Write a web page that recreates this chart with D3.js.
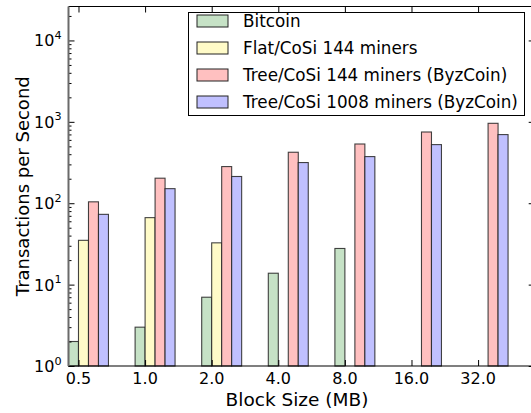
<!DOCTYPE html>
<html><head><meta charset="utf-8">
<script src="https://cdn.jsdelivr.net/npm/d3@7"></script>
<style>body{margin:0;background:#fff}svg{display:block;font-family:"DejaVu Sans",sans-serif}</style>
</head><body><svg id="c" width="531" height="413"></svg>
<script>
const categories = ["0.5","1.0","2.0","4.0","8.0","16.0","32.0"];
const bitcoin   = [2, 3, 7, 13.8, 27.8, null, null];
const flatCosi  = [35, 66.5, 32.6, null, null, null, null];
const tree144   = [104, 203, 282, 423, 534, 750, 959];
const tree1008  = [73, 151, 213, 316, 374, 525, 697];
const seriesNames = ["Bitcoin","Flat/CoSi 144 miners","Tree/CoSi 144 miners (ByzCoin)","Tree/CoSi 1008 miners (ByzCoin)"];
const seriesColors = ["#c6e2c6","#fffbc8","#ffc0c0","#c0c0ff"];
const yTicks = [1,10,100,1000,10000];

const svg = d3.select("#c");
const L=68.5, T=6.5, B=366, R=534.7;
const barW = 0.15;
const x = d3.scaleLinear().domain([0,7]).range([L,R]);
const y = d3.scaleLog().domain([1, Math.pow(10,4.417)]).range([B,T]);

const series = [bitcoin, flatCosi, tree144, tree1008];
series.forEach((vals,k)=>{
  svg.append("g").selectAll("rect").data(vals.map((v,i)=>({v,i})).filter(d=>d.v!=null))
    .join("rect")
    .attr("x", d=>x(d.i + k*barW))
    .attr("width", x(barW)-x(0))
    .attr("y", d=>y(d.v))
    .attr("height", d=>B-y(d.v))
    .attr("fill", seriesColors[k])
    .attr("stroke","#222").attr("stroke-width",1.1).attr("stroke-opacity",0.85);
});

// frame
svg.append("line").attr("x1",L).attr("x2",531).attr("y1",T).attr("y2",T).attr("stroke","#000").attr("stroke-width",1.2);
svg.append("line").attr("x1",L).attr("x2",531).attr("y1",B).attr("y2",B).attr("stroke","#000").attr("stroke-width",1.2);

// minor ticks
const minor=[];
for(let d=0; d<5; d++) for(let m=2;m<10;m++){const v=m*Math.pow(10,d); if(v<=y.domain()[1]) minor.push(v);}
// left axis
const gl = svg.append("g").attr("transform",`translate(${L},0)`);
gl.call(d3.axisRight(y).tickValues(yTicks).tickSize(6).tickFormat(""));
gl.append("g").call(d3.axisRight(y).tickValues(minor).tickSize(3).tickFormat(""));
gl.selectAll(".domain").remove();
gl.selectAll("line").attr("stroke","#000");
svg.append("line").attr("x1",L).attr("x2",L).attr("y1",T).attr("y2",B).attr("stroke","#6a6a6a").attr("stroke-width",2);
// right axis ticks
const gr = svg.append("g").attr("transform",`translate(${R},0)`);
gr.call(d3.axisLeft(y).tickValues(yTicks).tickSize(6).tickFormat(""));
gr.append("g").call(d3.axisLeft(y).tickValues(minor).tickSize(3).tickFormat(""));
gr.selectAll(".domain").remove();
gr.selectAll("line").attr("stroke","#000");

// y labels
const yl = svg.append("g").selectAll("text").data(yTicks).join("text")
  .attr("x", L-7).attr("y", d=>y(d)+6).attr("text-anchor","end").attr("font-size",16).attr("fill","#000");
yl.append("tspan").text("10");
yl.append("tspan").attr("font-size",11.2).attr("dy",-7.5).text(d=>Math.round(Math.log10(d)));

// x ticks
const tickPos = categories.map((c,i)=>i+barW);
const gt = svg.append("g").attr("transform",`translate(0,${T})`);
gt.call(d3.axisBottom(x).tickValues(tickPos).tickSize(6).tickFormat(""));
const gb = svg.append("g").attr("transform",`translate(0,${B})`);
gb.call(d3.axisTop(x).tickValues(tickPos).tickSize(6).tickFormat(""));
[gt,gb].forEach(g=>{g.selectAll(".domain").remove(); g.selectAll("line").attr("stroke","#000");});
svg.append("g").selectAll("text").data(categories).join("text")
  .attr("x",(d,i)=>x(tickPos[i])).attr("y",B+18).attr("text-anchor","middle").attr("font-size",16).text(d=>d);

// axis titles
svg.append("text").attr("x",297).attr("y",406).attr("text-anchor","middle").attr("font-size",18.5).text("Block Size (MB)");
svg.append("text").attr("transform",`translate(29,${(T+B)/2}) rotate(-90)`).attr("text-anchor","middle").attr("font-size",18).text("Transactions per Second");

// legend
const lg = svg.append("g");
lg.append("rect").attr("x",188.5).attr("y",12.5).attr("width",336).attr("height",103).attr("fill","#fff").attr("stroke","#000").attr("stroke-width",1);
seriesNames.forEach((n,k)=>{
  const cy = 21 + k*27;
  lg.append("rect").attr("x",197).attr("y",cy-6).attr("width",31).attr("height",12).attr("fill",seriesColors[k]).attr("stroke","#222").attr("stroke-width",1);
  lg.append("text").attr("x",243).attr("y",cy+6).attr("font-size",16.8).text(n);
});
</script></body></html>
